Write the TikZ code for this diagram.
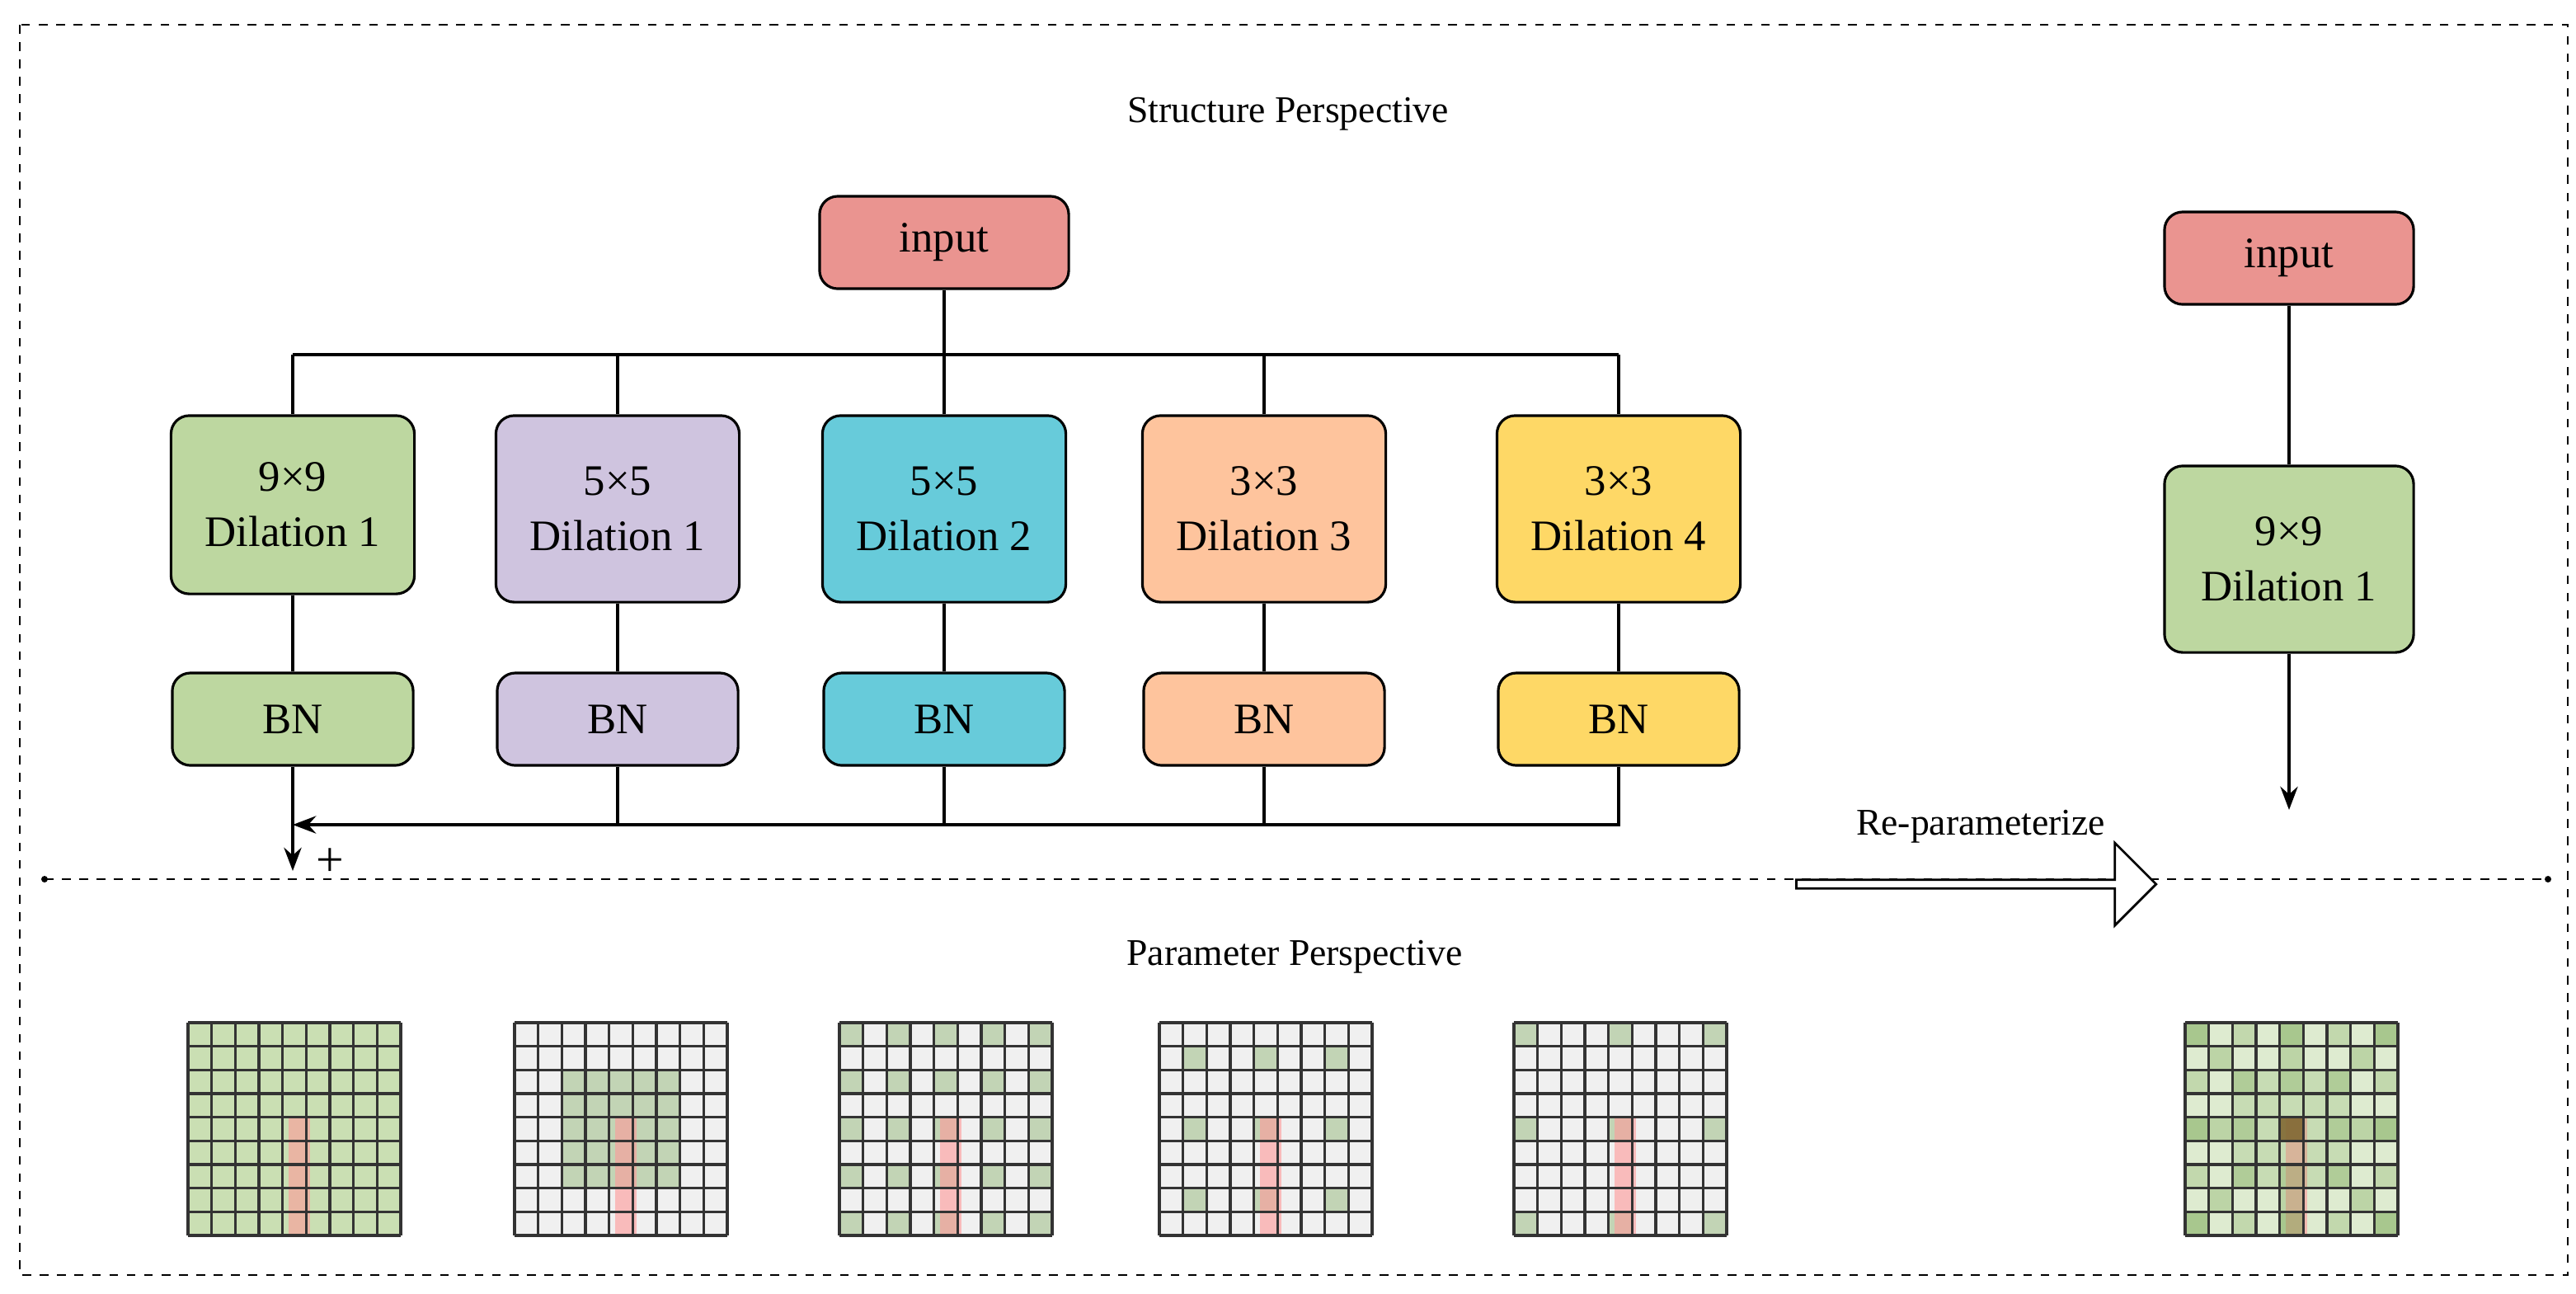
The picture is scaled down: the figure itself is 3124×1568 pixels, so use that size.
\documentclass[tikz,border=0pt]{standalone}
\usepackage{fontspec}
\setmainfont{Liberation Serif}
\usetikzlibrary{arrows.meta,shapes.arrows}
\definecolor{cin}{HTML}{EA9490}
\definecolor{cg}{HTML}{BDD7A0}
\definecolor{cp}{HTML}{CFC4DF}
\definecolor{cc}{HTML}{67CBDA}
\definecolor{co}{HTML}{FEC49D}
\definecolor{cy}{HTML}{FED866}
\definecolor{kg}{HTML}{6FA048}
\tikzset{
 box/.style={draw=black,line width=0.9pt,rounded corners=0.22cm,align=center,font=\fontsize{15}{19}\selectfont,inner sep=0pt},
 conv/.style={box,minimum width=2.95cm,minimum height=2.26cm},
 bn/.style={box,minimum width=2.92cm,minimum height=1.12cm},
 inp/.style={box,fill=cin,minimum width=3.02cm,minimum height=1.12cm},
 ln/.style={line width=1.2pt},
 arr/.style={ln,-{Stealth[length=8pt,width=6pt]}},
 lbl/.style={font=\fontsize{13}{16}\selectfont},
}
\newcommand\kgrid[4]{% x, y, base color, index list
 \begin{scope}[shift={(#1,#2)}]
 \fill[#3] (0,0) rectangle (258,258);
 \foreach \i in {#4}{\foreach \j in {#4}{\fill[kg,fill opacity=0.35] (\i*28.667,\j*28.667) rectangle ++(28.667,28.667);}}
 \fill[red!40,fill opacity=0.6] (122,115) rectangle (148,258);
 \foreach \k in {0,...,9}{\draw[black!80,line width=0.9pt] (\k*28.667,0) -- (\k*28.667,258);
   \draw[black!80,line width=0.9pt] (0,\k*28.667) -- (258,\k*28.667);}
 \end{scope}}
\begin{document}
\begin{tikzpicture}[x=0.01cm,y=-0.01cm]
\useasboundingbox (0,0) rectangle (3124,1568);
\draw[dashed,line width=0.8pt] (24,30) rectangle (3114,1546);
\node[lbl] (t1) at (1562,138) {Structure Perspective};
\node[lbl] (t2) at (1570,1160) {Parameter Perspective};
\node[inp] (in) at (1145,294) {input};
\node[conv,fill=cg,minimum height=2.16cm] (c1) at (355,612) {9×9\\Dilation 1};
\node[conv,fill=cp] (c2) at (749,617) {5×5\\Dilation 1};
\node[conv,fill=cc] (c3) at (1145,617) {5×5\\Dilation 2};
\node[conv,fill=co] (c4) at (1533,617) {3×3\\Dilation 3};
\node[conv,fill=cy] (c5) at (1963,617) {3×3\\Dilation 4};
\node[bn,fill=cg] (b1) at (355,872) {BN};
\node[bn,fill=cp] (b2) at (749,872) {BN};
\node[bn,fill=cc] (b3) at (1145,872) {BN};
\node[bn,fill=co] (b4) at (1533,872) {BN};
\node[bn,fill=cy] (b5) at (1963,872) {BN};
\coordinate (bus) at (0,430);
\coordinate (bot) at (0,1000);
\coordinate (sum) at (355,1056);
\draw[ln] (in.south) -- (in.south|-bus);
\draw[ln] (c1.north|-bus) -- (c5.north|-bus);
\foreach \k in {1,...,5}{\draw[ln] (c\k.north) -- (c\k.north|-bus); \draw[ln] (c\k.south) -- (b\k.north);}
\foreach \k in {2,...,4}{\draw[ln] (b\k.south) -- (b\k.south|-bot);}
\draw[arr] (b5.south) -- (b5.south|-bot) -- (b1.south|-bot);
\draw[arr] (b1.south) -- (sum);
\node[font=\fontsize{17}{17}\selectfont] (plus) at (400,1046) {+};
\draw[dashed,line width=0.6pt] (54,1066) -- (3090,1066);
\fill (54,1066) circle (4);
\fill (3090,1066) circle (4);
\node[lbl] (rp) at (2402,1002) {Re-parameterize};
\node[single arrow,draw=black,line width=0.8pt,fill=white,minimum width=1.0cm,single arrow head extend=0.12cm,minimum height=4.36cm,inner sep=0pt] (ha) at (2394,1072) {};
\node[inp] (in2) at (2776,313) {input};
\node[conv,fill=cg,minimum width=3.02cm] (c6) at (2776,678) {9×9\\Dilation 1};
\coordinate (end) at (2776,982);
\draw[ln] (in2.south) -- (c6.north);
\draw[arr] (c6.south) -- (end);
\kgrid{228}{1240}{cg!80}{}
\kgrid{624}{1240}{black!6}{2,...,6}
\kgrid{1018}{1240}{black!6}{0,2,4,6,8}
\kgrid{1406}{1240}{black!6}{1,4,7}
\kgrid{1836}{1240}{black!6}{0,4,8}
\begin{scope}
\kgrid{2650}{1240}{cg!50}{}
\end{scope}
\begin{scope}[shift={(2650,1240)}]
\foreach \i in {2,...,6}{\foreach \j in {2,...,6}{\fill[kg,fill opacity=0.2] (\i*28.667,\j*28.667) rectangle ++(28.667,28.667);}}
\foreach \i in {0,2,4,6,8}{\foreach \j in {0,2,4,6,8}{\fill[kg,fill opacity=0.25] (\i*28.667,\j*28.667) rectangle ++(28.667,28.667);}}
\foreach \i in {1,4,7}{\foreach \j in {1,4,7}{\fill[kg,fill opacity=0.3] (\i*28.667,\j*28.667) rectangle ++(28.667,28.667);}}
\foreach \i in {0,4,8}{\foreach \j in {0,4,8}{\fill[kg,fill opacity=0.3] (\i*28.667,\j*28.667) rectangle ++(28.667,28.667);}}
\fill[brown!70!black,fill opacity=0.7] (4*28.667,4*28.667) rectangle ++(28.667,28.667);
\foreach \k in {0,...,9}{\draw[black!80,line width=0.9pt] (\k*28.667,0) -- (\k*28.667,258);
   \draw[black!80,line width=0.9pt] (0,\k*28.667) -- (258,\k*28.667);}
\end{scope}
\end{tikzpicture}
\end{document}
